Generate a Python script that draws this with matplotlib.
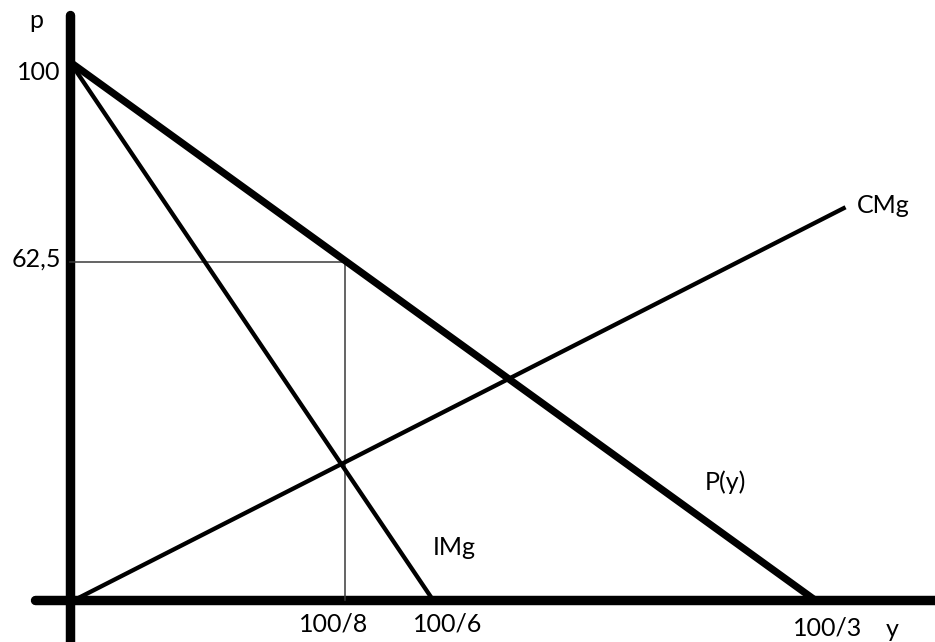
import matplotlib
matplotlib.use("Agg")
import matplotlib.pyplot as plt

plt.rcParams['font.family'] = ['Lato', 'DejaVu Sans']

# curves (y = quantity, p = price)
y_price = [0.0, 33.33]
p_price = [100.0, 0.0]
y_img = [0.0, 16.24]
p_img = [100.0, 0.0]
y_cmg = [0.2, 34.7]
p_cmg = [0.0, 73.0]
y_opt = 12.3
p_opt = 62.8

# text labels: (text, x px, baseline px from top)
labels = [
    ("p", 36, 28),
    ("100", 39, 80),
    ("62,5", 36, 267),
    ("100/8", 334, 632),
    ("100/6", 448, 632),
    ("100/3", 828, 635),
    ("y", 892, 637),
    ("CMg", 883, 213),
    ("P(y)", 725, 490),
    ("IMg", 454, 555),
]

W, H = 935, 642
sx, sy = 22.35, 5.38   # pixels per unit
x0, y0 = 70, 600       # pixel position of the origin

fig = plt.figure(figsize=(W / 100, H / 100), dpi=100)
ax = fig.add_axes([0, 0, 1, 1])
ax.set_xlim(-x0 / sx, (W - x0) / sx)
ax.set_ylim(-(H - y0) / sy, y0 / sy)
ax.axis('off')

# axes drawn by hand
ax.plot([-35 / sx, 50], [0, 0], color='black', lw=6.8, solid_capstyle='round')
ax.plot([0, 0], [-20, (y0 - 15) / sy], color='black', lw=6.8, solid_capstyle='round')

# guide lines
ax.plot([0, y_opt], [p_opt, p_opt], color='#3a3a3a', lw=1.1)
ax.plot([y_opt, y_opt], [0, p_opt], color='#3a3a3a', lw=1.1)

ax.plot(y_price, p_price, color='black', lw=5.2, solid_capstyle='butt')
ax.plot(y_img, p_img, color='black', lw=3.1, solid_capstyle='butt')
ax.plot(y_cmg, p_cmg, color='black', lw=3.1, solid_capstyle='butt')

for txt, px, py in labels:
    fig.text(px / W, 1 - py / H, txt, ha='center', va='baseline',
             fontsize=18, color='black')

fig.savefig('out.png', dpi=100)
